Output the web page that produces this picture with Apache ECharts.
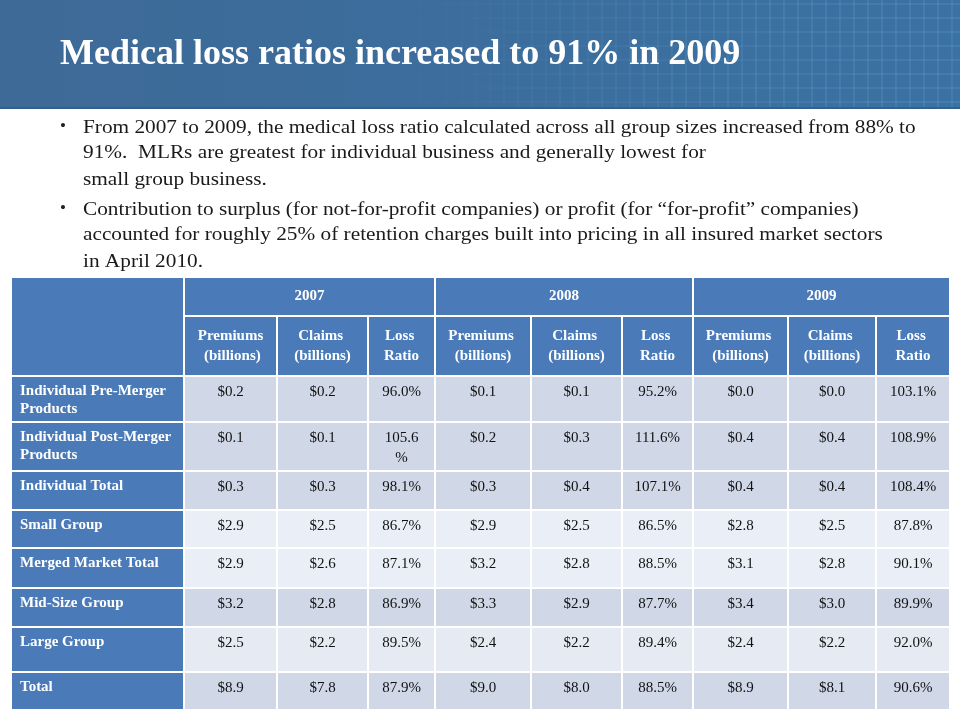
<!DOCTYPE html>
<html>
<head>
<meta charset="UTF-8">
<title>Medical loss ratios</title>
<script src="https://cdn.jsdelivr.net/npm/echarts@6/dist/echarts.min.js"></script>
<style>
  html, body { margin: 0; padding: 0; background: #fff; }
  #main { width: 960px; height: 720px; }
</style>
</head>
<body>
<div id="main"></div>
<script>
// ---- content ----
var titleText = 'Medical loss ratios increased to 91% in 2009';
var bullet1 = [
  'From 2007 to 2009, the medical loss ratio calculated across all group sizes increased from 88% to',
  '91%.  MLRs are greatest for individual business and generally lowest for',
  'small group business.'
];
var bullet2 = [
  'Contribution to surplus (for not-for-profit companies) or profit (for \u201cfor-profit\u201d companies)',
  'accounted for roughly 25% of retention charges built into pricing in all insured market sectors',
  'in April 2010.'
];

var years = ['2007', '2008', '2009'];
var measures = ['Premiums (billions)', 'Claims (billions)', 'Loss Ratio'];
var segments = ['Individual Pre-Merger Products', 'Individual Post-Merger Products', 'Individual Total',
  'Small Group', 'Merged Market Total', 'Mid-Size Group', 'Large Group', 'Total'];

var prem2007  = [0.2, 0.1, 0.3, 2.9, 2.9, 3.2, 2.5, 8.9];
var claim2007 = [0.2, 0.1, 0.3, 2.5, 2.6, 2.8, 2.2, 7.8];
var lr2007    = [96.0, 105.6, 98.1, 86.7, 87.1, 86.9, 89.5, 87.9];
var prem2008  = [0.1, 0.2, 0.3, 2.9, 3.2, 3.3, 2.4, 9.0];
var claim2008 = [0.1, 0.3, 0.4, 2.5, 2.8, 2.9, 2.2, 8.0];
var lr2008    = [95.2, 111.6, 107.1, 86.5, 88.5, 87.7, 89.4, 88.5];
var prem2009  = [0.0, 0.4, 0.4, 2.8, 3.1, 3.4, 2.4, 8.9];
var claim2009 = [0.0, 0.4, 0.4, 2.5, 2.8, 3.0, 2.2, 8.1];
var lr2009    = [103.1, 108.9, 108.4, 87.8, 90.1, 89.9, 92.0, 90.6];

// ---- layout (pixel edges of the table grid) ----
var colEdges = [11, 184, 277, 368, 435, 531, 622, 693, 788, 876, 950];
var rowEdges = [277, 316, 376, 422, 471, 510, 548, 588, 627, 672, 710];
var rowFill = ['#d0d8e8', '#d0d8e8', '#d0d8e8', '#eaeff7', '#eaeff7', '#d0d8e8', '#e6ebf3', '#d0d8e8'];
var headFill = '#4a7bb8';
var serif = '"Liberation Serif", "Times New Roman", serif';

var columns = [
  [prem2007, 'money'], [claim2007, 'money'], [lr2007, 'pct'],
  [prem2008, 'money'], [claim2008, 'money'], [lr2008, 'pct'],
  [prem2009, 'money'], [claim2009, 'money'], [lr2009, 'pct']
];

function fmt(v, kind) {
  return kind === 'money' ? '$' + v.toFixed(1) : v.toFixed(1) + '%';
}

// build the cell list
var cells = [];
cells.push({ c0: 0, c1: 1, r0: 0, r1: 2, text: '', kind: 'head' });
years.forEach(function (y, i) {
  cells.push({ c0: 1 + 3 * i, c1: 4 + 3 * i, r0: 0, r1: 1, text: y, kind: 'head' });
  measures.forEach(function (m, j) {
    cells.push({ c0: 1 + 3 * i + j, c1: 2 + 3 * i + j, r0: 1, r1: 2, text: m, kind: 'head' });
  });
});
segments.forEach(function (s, k) {
  cells.push({ c0: 0, c1: 1, r0: 2 + k, r1: 3 + k, text: s, kind: 'label' });
  columns.forEach(function (col, j) {
    cells.push({ c0: 1 + j, c1: 2 + j, r0: 2 + k, r1: 3 + k, text: fmt(col[0][k], col[1]), kind: 'data', fill: rowFill[k] });
  });
});

function renderCell(params, api) {
  var c = cells[params.dataIndex];
  var p0 = api.coord([colEdges[c.c0], rowEdges[c.r0]]);
  var p1 = api.coord([colEdges[c.c1], rowEdges[c.r1]]);
  var w = p1[0] - p0[0], h = p1[1] - p0[1];
  var txt;
  if (c.kind === 'head') {
    txt = { type: 'text', x: p0[0] + w / 2, y: p0[1] + h / 2,
      style: { text: c.text, fill: '#fff', fontFamily: serif, fontWeight: 'bold', fontSize: 15,
        align: 'center', verticalAlign: 'middle', width: w - 24, overflow: 'break', lineHeight: 20 } };
  } else if (c.kind === 'label') {
    txt = { type: 'text', x: p0[0] + 9, y: p0[1] + 6,
      style: { text: c.text, fill: '#fff', fontFamily: serif, fontWeight: 'bold', fontSize: 15,
        align: 'left', verticalAlign: 'top', width: w - 18, overflow: 'break', lineHeight: 18 } };
  } else {
    txt = { type: 'text', x: p0[0] + w / 2, y: p0[1] + 6,
      style: { text: c.text, fill: '#111', fontFamily: serif, fontSize: 15,
        align: 'center', verticalAlign: 'top', width: w - 24, overflow: 'breakAll', lineHeight: 20 } };
  }
  return {
    type: 'group',
    children: [
      { type: 'rect', shape: { x: p0[0], y: p0[1], width: w, height: h },
        style: { fill: c.kind === 'data' ? c.fill : headFill, stroke: '#ffffff', lineWidth: 2 } },
      txt
    ]
  };
}

// header band decoration
var band = [
  { type: 'rect', shape: { x: 0, y: 0, width: 960, height: 109 },
    style: { fill: new echarts.graphic.LinearGradient(0, 0, 1, 0, [
      { offset: 0, color: '#3e6a97' }, { offset: 0.5, color: '#3c6d9c' }, { offset: 1, color: '#3a72a3' }]) } },
  { type: 'rect', shape: { x: 0, y: 107, width: 960, height: 2 }, style: { fill: '#35608c' } }
];
for (var gx = 392; gx < 960; gx += 14) {
  band.push({ type: 'line', shape: { x1: gx, y1: 0, x2: gx, y2: 107 },
    style: { stroke: '#6fb4dc', lineWidth: 1, opacity: Math.min(0.35, (gx - 380) / 1100) } });
}
for (var gy = 4; gy < 107; gy += 14) {
  band.push({ type: 'line', shape: { x1: 380, y1: gy, x2: 960, y2: gy },
    style: { stroke: new echarts.graphic.LinearGradient(0, 0, 1, 0, [
      { offset: 0, color: 'rgba(111,180,220,0)' }, { offset: 1, color: 'rgba(111,180,220,0.35)' }]), lineWidth: 1 } });
}

// bullet text (horizontally widened to match the letter-spaced original)
var textEls = [];
var lineY1 = [128, 153, 180], lineY2 = [210, 235, 262];
[[bullet1, lineY1], [bullet2, lineY2]].forEach(function (b) {
  textEls.push({ type: 'text', x: 60, y: b[1][0] - 1,
    style: { text: '\u2022', fill: '#222', fontSize: 17, fontFamily: serif, verticalAlign: 'middle' } });
  b[0].forEach(function (line, i) {
    textEls.push({ type: 'text', x: 83, y: b[1][i], scaleX: 1.12,
      style: { text: line, fill: '#1a1a1a', fontSize: 19, fontFamily: serif, verticalAlign: 'middle' } });
  });
});

var chart = echarts.init(document.getElementById('main'), null, { renderer: 'canvas' });
var option = {
  backgroundColor: '#ffffff',
  animation: false,
  title: {
    text: titleText,
    left: 55,
    top: 32,
    z: 10,
    textStyle: { color: '#ffffff', fontFamily: serif, fontWeight: 'bold', fontSize: 36 }
  },
  graphic: { elements: band.concat(textEls) },
  grid: { left: 0, right: 0, top: 0, bottom: 0 },
  xAxis: { type: 'value', min: 0, max: 960, show: false },
  yAxis: { type: 'value', min: 0, max: 720, inverse: true, show: false },
  series: [{
    type: 'custom',
    renderItem: renderCell,
    data: cells.map(function (c, i) { return [i]; }),
    encode: { x: 0 },
    silent: true
  }]
};
chart.setOption(option);
</script>
</body>
</html>
